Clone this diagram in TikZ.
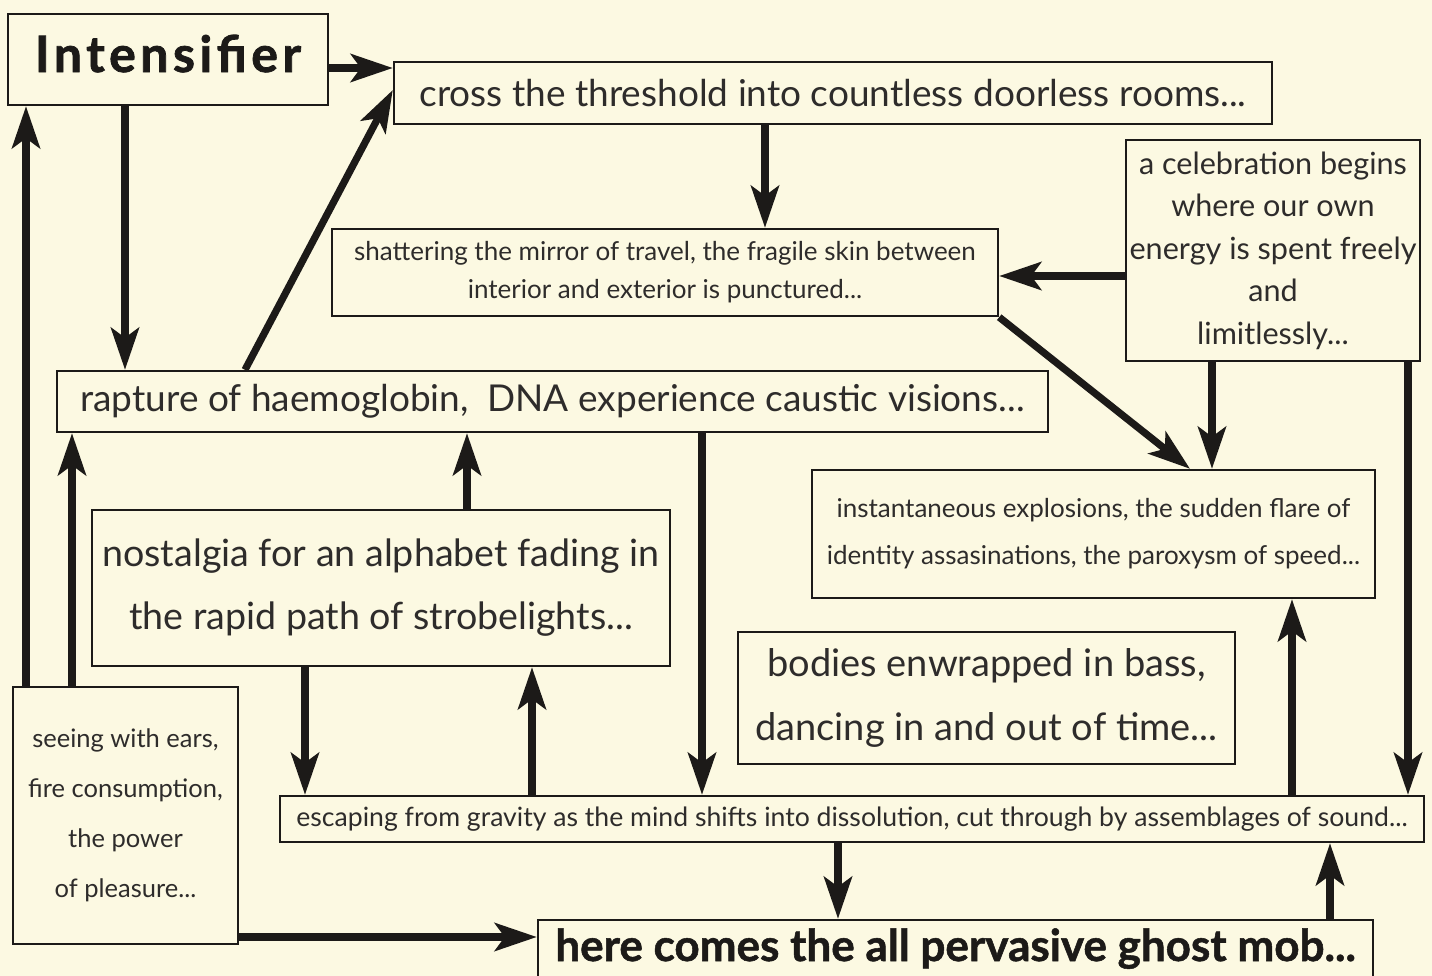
\documentclass[tikz,border=0pt]{standalone}
\usepackage{fontspec}
\setmainfont{Lato}
\usepackage{tikz}
\usetikzlibrary{arrows.meta}
\definecolor{paper}{RGB}{252,249,226}
\definecolor{ink}{RGB}{28,26,24}
\tikzset{
    tbox/.style = {align=center, inner sep=0pt, text centered, draw=ink, line width=1.2pt, text=ink!92},
    small_box/.style = {tbox, font=\fontsize{13}{23.5}\selectfont},
    mid_box/.style = {tbox, font=\fontsize{15.3}{21.25}\selectfont},
    large_box/.style = {tbox, font=\fontsize{18.5}{31.5}\selectfont},
    title_box/.style = {tbox, text=ink, font=\fontsize{25}{28}\selectfont\bfseries},
    flow/.style = {->, line width=3.6pt, draw=ink}
}

\begin{document}
\begin{tikzpicture}
            [x=0.5pt, y=-0.5pt,
            >={Stealth[length=21pt, width=14pt, inset=5pt]}]

            \useasboundingbox (0,0) rectangle (1432,976);
            \clip (0,0) rectangle (1432,976);
            \fill[paper] (0,0) rectangle (1432,976);

            % boxes
            \node [title_box, font=\fontsize{25}{28}\selectfont\bfseries\addfontfeatures{LetterSpace=9,FakeBold=1.5},
                   text height=29pt, text depth=16.5pt, minimum width=160pt] (intens) at (168,59.5) {Intensifier};
            \node [large_box, minimum width=439pt, minimum height=31pt] (cross) at (833,93)
                {cross the threshold into countless doorless rooms...};
            \node [small_box, font=\fontsize{13}{19}\selectfont, minimum width=333pt, minimum height=43.5pt] (shatter) at (665,272.5)
                {shattering the mirror of travel, the fragile skin between\\ interior and exterior is punctured...};
            \node [mid_box, minimum width=147pt, minimum height=110.5pt] (celeb) at (1273,250.5)
                {a celebration begins\\ where our own\\ energy is spent freely\\ and\\ limitlessly...};
            \node [large_box, minimum width=495.5pt, minimum height=30.5pt] (rapture) at (552.5,401.5)
                {rapture of haemoglobin,\ \ DNA experience caustic visions...};
            \node [large_box, font=\fontsize{18.8}{31.5}\selectfont, minimum width=289pt, minimum height=78pt] (nostalg) at (381,588)
                {nostalgia for an alphabet fading in\\ the rapid path of strobelights...};
            \node [small_box, minimum width=281.5pt, minimum height=64pt] (instant) at (1093.5,534)
                {instantaneous explosions, the sudden flare of\\ identity assasinations, the paroxysm of speed...};
            \node [large_box, font=\fontsize{19}{32}\selectfont, minimum width=248.5pt, minimum height=66pt] (bodies) at (986.5,698)
                {bodies enwrapped in bass,\\ dancing in and out of time...};
            \node [small_box, font=\fontsize{12.75}{25}\selectfont, minimum width=112.5pt, minimum height=128.5pt] (seeing) at (125.5,815.5)
                {seeing with ears,\\ fire consumption,\\ the power\\ of pleasure...};
            \node [small_box, font=\fontsize{13.3}{16}\selectfont, minimum width=572pt, minimum height=23pt] (escape) at (852,819)
                {escaping from gravity as the mind shifts into dissolution, cut through by assemblages of sound...};
            \node [title_box, font=\fontsize{22}{26}\selectfont\bfseries\addfontfeatures{FakeBold=1.2}, text height=20.5pt, text depth=19.5pt, minimum width=417.5pt] (ghost) at (955.5,960)
                {here comes the all pervasive ghost mob...};

            % arrows
            \draw [flow] ([yshift=-4.25pt]intens.east) -- ([yshift=-4.25pt]intens.east -| cross.west);
            \draw [flow] ([xshift=-21.5pt]intens.south) -- ([xshift=-21.5pt]intens.south |- rapture.north);
            \draw [flow] ([xshift=-153.75pt]rapture.north) -- ([yshift=1.5pt]cross.west);
            \draw [flow] ([xshift=-34pt]cross.south) -- ([xshift=-34pt]cross.south |- shatter.north);
            \draw [flow] ([yshift=-12.75pt]celeb.west) -- ([yshift=-12.75pt]celeb.west -| shatter.east);
            \draw [flow] (shatter.south east) -- ([xshift=48.25pt]instant.north);
            \draw [flow] ([xshift=-30.5pt]celeb.south) -- ([xshift=-30.5pt]celeb.south |- instant.north);
            \draw [flow] ([xshift=67.5pt]celeb.south) -- ([xshift=67.5pt]celeb.south |- escape.north);
            \draw [flow] ([xshift=43pt]nostalg.north) -- ([xshift=43pt]nostalg.north |- rapture.south);
            \draw [flow] ([xshift=74.75pt]rapture.south) -- ([xshift=74.75pt]rapture.south |- escape.north);
            \draw [flow] ([xshift=-38pt]nostalg.south) -- ([xshift=-38pt]nostalg.south |- escape.north);
            \draw [flow] ([xshift=75.5pt]nostalg.south |- escape.north) -- ([xshift=75.5pt]nostalg.south);
            \draw [flow] ([xshift=-26.75pt]seeing.north) -- ([xshift=-26.75pt]seeing.north |- rapture.south);
            \draw [flow] ([xshift=-49.75pt]seeing.north) -- ([xshift=-49.75pt]seeing.north |- intens.south);
            \draw [flow] ([yshift=-60.75pt]seeing.east) -- ([yshift=-60.75pt]seeing.east -| ghost.west);
            \draw [flow] ([xshift=-7pt]escape.south) -- ([xshift=-7pt]escape.south |- ghost.north);
            \draw [flow] ([xshift=187.25pt]ghost.north) -- ([xshift=187.25pt]ghost.north |- escape.south);
            \draw [flow] ([xshift=99.25pt]instant.south |- escape.north) -- ([xshift=99.25pt]instant.south);
\end{tikzpicture}
\end{document}
